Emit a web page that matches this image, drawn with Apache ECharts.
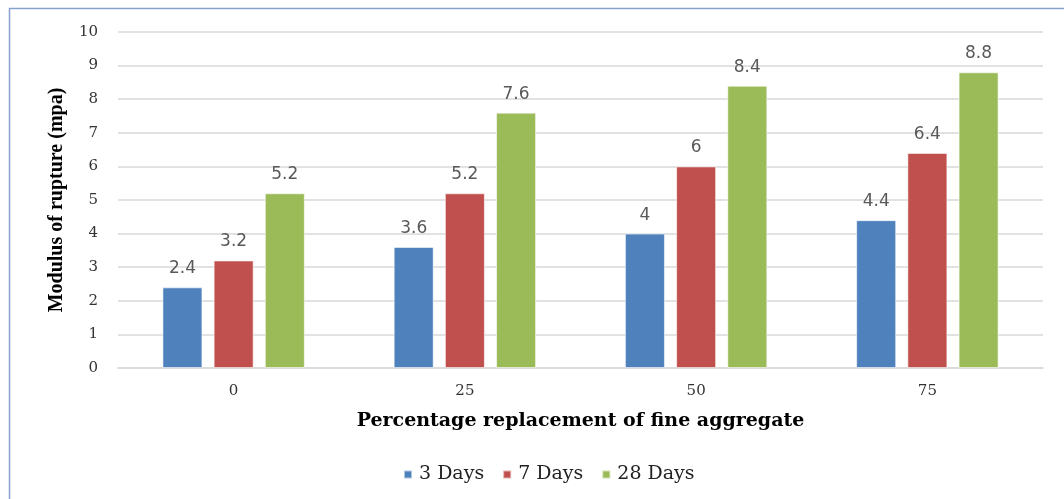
<!DOCTYPE html>
<html>
<head>
<meta charset="utf-8">
<script src="https://cdn.jsdelivr.net/npm/echarts@6/dist/echarts.min.js"></script>
<style>
  html, body { margin: 0; padding: 0; background: #fff; }
  #chart { width: 1064px; height: 499px; }
</style>
</head>
<body>
<div id="chart"></div>
<script>
// Modulus of rupture by fine aggregate replacement and curing age
const categories = ['0', '25', '50', '75'];
const days3 = [2.4, 3.6, 4, 4.4];
const days7 = [3.2, 5.2, 6, 6.4];
const days28 = [5.2, 7.6, 8.4, 8.8];
const seriesNames = ['3 Days', '7 Days', '28 Days'];
const seriesColors = ['#4F81BD', '#C0504D', '#9BBB59'];

const serifWide = '"DejaVu Serif", serif';
const serif = '"Liberation Serif", "Times New Roman", serif';
const sans = '"DejaVu Sans", sans-serif';

function barSeries(name, data, color) {
  return {
    name: name,
    type: 'bar',
    data: data,
    barWidth: 40,
    barGap: '28%',
    itemStyle: { color: color, borderColor: 'rgba(255,255,255,0.55)', borderWidth: 1 },
    label: {
      show: true,
      position: 'top',
      distance: 10,
      color: '#595959',
      fontFamily: sans,
      fontSize: 17
    }
  };
}

const chart = echarts.init(document.getElementById('chart'), null, { renderer: 'canvas' });
chart.setOption({
  animation: false,
  backgroundColor: '#fff',
  graphic: [{
    type: 'rect',
    shape: { x: 9.5, y: 8.5, width: 1200, height: 700 },
    style: { fill: 'none', stroke: '#86A3D0', lineWidth: 1.5 },
    silent: true,
    z: -1
  }],
  grid: { left: 118, right: 21, top: 32, bottom: 131 },
  legend: {
    data: seriesNames,
    bottom: 10,
    left: 398,
    itemWidth: 8,
    itemHeight: 8,
    itemGap: 18,
    icon: 'rect',
    textStyle: { fontFamily: serifWide, fontSize: 19, color: '#222', padding: [0, 0, 0, 2] }
  },
  xAxis: {
    type: 'category',
    data: categories,
    name: 'Percentage replacement of fine aggregate',
    nameLocation: 'middle',
    nameGap: 44,
    nameTextStyle: { fontFamily: serifWide, fontSize: 19, fontWeight: 'bold', color: '#000' },
    axisLine: { lineStyle: { color: '#d9d9d9', width: 1.5 } },
    axisTick: { show: false },
    axisLabel: { fontFamily: serifWide, fontSize: 15, color: '#333', margin: 16 }
  },
  yAxis: {
    type: 'value',
    min: 0,
    max: 10,
    interval: 1,
    name: 'Modulus of rupture (mpa)',
    nameLocation: 'middle',
    nameGap: 51,
    nameRotate: 90,
    nameTextStyle: { fontFamily: serif, fontSize: 20, fontWeight: 'bold', color: '#000' },
    axisLine: { show: false },
    axisTick: { show: false },
    axisLabel: { fontFamily: serifWide, fontSize: 15, color: '#333', margin: 20 },
    splitLine: { lineStyle: { color: '#d9d9d9', width: 1.5 } }
  },
  series: [
    barSeries(seriesNames[0], days3, seriesColors[0]),
    barSeries(seriesNames[1], days7, seriesColors[1]),
    barSeries(seriesNames[2], days28, seriesColors[2])
  ]
});
</script>
</body>
</html>
